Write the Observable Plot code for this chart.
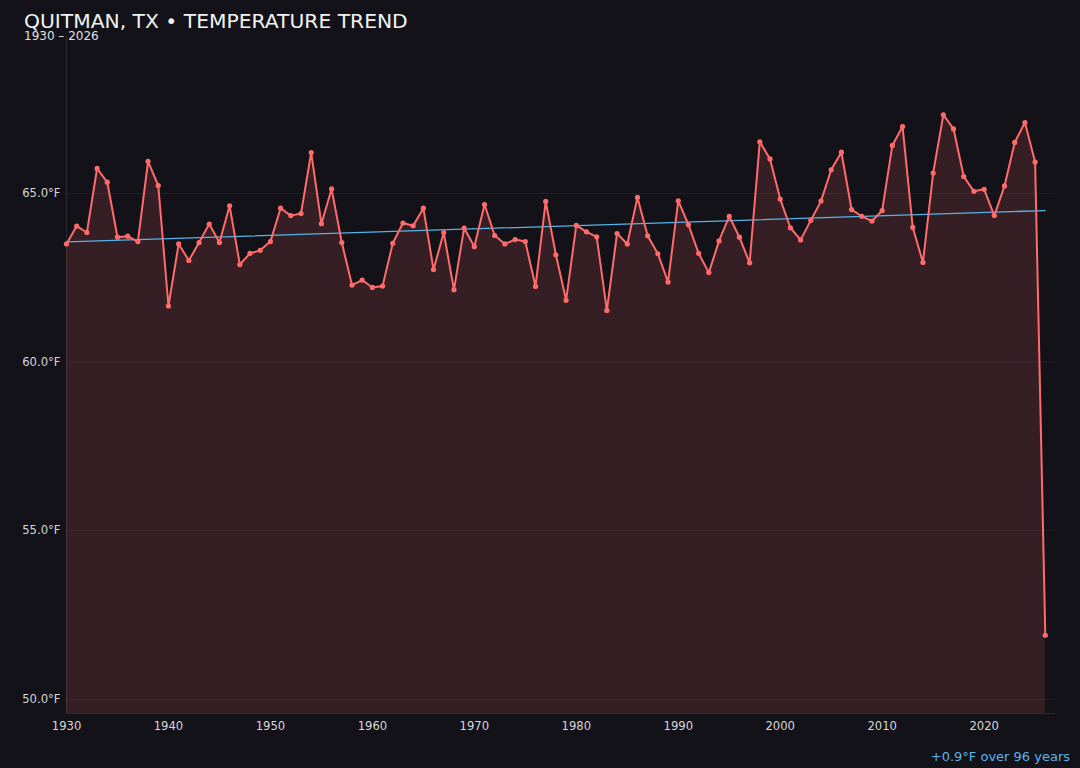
<!DOCTYPE html>
<html>
<head>
<meta charset="utf-8">
<script src="https://cdn.jsdelivr.net/npm/d3@7"></script>
<script src="https://cdn.jsdelivr.net/npm/@observablehq/plot@0.6"></script>
<style>
  html, body { margin: 0; padding: 0; background: #131218; }
  body { width: 1080px; height: 768px; position: relative; overflow: hidden; font-family: "DejaVu Sans", sans-serif; }
  #title { position: absolute; left: 24px; top: 12px; font-size: 20.3px; color: #f2f2f2; line-height: 18px; white-space: nowrap; }
  #subtitle { position: absolute; left: 24px; top: 30px; font-size: 12px; color: #e0e0e0; line-height: 12px; white-space: nowrap; }
  #caption { position: absolute; right: 10px; top: 749px; font-size: 13px; color: #5bb4e6; line-height: 16px; white-space: nowrap; }
  #chart { position: absolute; left: 0; top: 0; }
</style>
</head>
<body>
<div id="chart"></div>
<div id="title">QUITMAN, TX • TEMPERATURE TREND</div>
<div id="subtitle">1930 – 2026</div>
<div id="caption">+0.9°F over 96 years</div>
<script>
const years = [
  1930,1931,1932,1933,1934,1935,1936,1937,1938,1939,
  1940,1941,1942,1943,1944,1945,1946,1947,1948,1949,
  1950,1951,1952,1953,1954,1955,1956,1957,1958,1959,
  1960,1961,1962,1963,1964,1965,1966,1967,1968,1969,
  1970,1971,1972,1973,1974,1975,1976,1977,1978,1979,
  1980,1981,1982,1983,1984,1985,1986,1987,1988,1989,
  1990,1991,1992,1993,1994,1995,1996,1997,1998,1999,
  2000,2001,2002,2003,2004,2005,2006,2007,2008,2009,
  2010,2011,2012,2013,2014,2015,2016,2017,2018,2019,
  2020,2021,2022,2023,2024,2025,2026
];
const temps = [
  63.50,64.03,63.84,65.74,65.33,63.70,63.73,63.57,65.95,65.23,
  61.66,63.50,63.01,63.54,64.09,63.54,64.63,62.89,63.22,63.31,
  63.57,64.56,64.34,64.40,66.21,64.10,65.13,63.54,62.28,62.43,
  62.21,62.25,63.52,64.12,64.04,64.56,62.74,63.84,62.14,63.97,
  63.42,64.67,63.75,63.50,63.63,63.57,62.24,64.76,63.18,61.83,
  64.05,63.86,63.71,61.53,63.81,63.50,64.88,63.74,63.21,62.37,
  64.78,64.07,63.22,62.65,63.59,64.32,63.70,62.94,66.53,66.02,
  64.83,63.98,63.62,64.20,64.77,65.70,66.22,64.52,64.32,64.18,
  64.49,66.42,66.98,63.99,62.95,65.60,67.33,66.91,65.50,65.06,
  65.12,64.34,65.22,66.51,67.10,65.93,51.90
];
const trendYears = [1930, 2026];
const trendTemps = [63.56, 64.49];
const xTicks = [1930,1940,1950,1960,1970,1980,1990,2000,2010,2020];
const yTicks = [50,55,60,65];
const xDomain = [1930, 2027];
const yDomain = [49.58, 69.65];

const data = years.map((y, i) => ({year: y, temp: temps[i]}));
const trend = trendYears.map((y, i) => ({year: y, temp: trendTemps[i]}));

const lineColor = "#ff6b6b";
const trendColor = "#56b4e9";

const chart = Plot.plot({
  width: 1080,
  height: 768,
  marginTop: 36,
  marginBottom: 55,
  marginLeft: 66,
  marginRight: 25,
  style: { background: "transparent", color: "#d8d8d8", fontFamily: "DejaVu Sans, sans-serif", fontSize: "11.6px" },
  x: { domain: xDomain, label: null },
  y: { domain: yDomain, label: null },
  marks: [
    Plot.gridY(yTicks, { stroke: "#ffffff", strokeOpacity: 0.06 }),
    Plot.areaY(data, { x: "year", y1: yDomain[0], y2: "temp", fill: lineColor, fillOpacity: 0.15 }),
    Plot.ruleX([xDomain[0]], { stroke: "#ffffff", strokeOpacity: 0.1 }),
    Plot.ruleY([yDomain[0]], { stroke: "#ffffff", strokeOpacity: 0.1 }),
    Plot.line(trend, { x: "year", y: "temp", stroke: trendColor, strokeWidth: 1.3 }),
    Plot.line(data, { x: "year", y: "temp", stroke: lineColor, strokeWidth: 2 }),
    Plot.dot(data, { x: "year", y: "temp", r: 2.6, fill: lineColor, stroke: "none" }),
    Plot.axisX({ ticks: xTicks, tickFormat: d => String(d), tickSize: 0, tickPadding: 8, label: null, fill: "#d8d8d8" }),
    Plot.axisY({ ticks: yTicks, tickFormat: d => d.toFixed(1) + "°F", tickSize: 0, tickPadding: 6, label: null, fill: "#d8d8d8" })
  ]
});
document.getElementById("chart").appendChild(chart);
</script>
</body>
</html>
